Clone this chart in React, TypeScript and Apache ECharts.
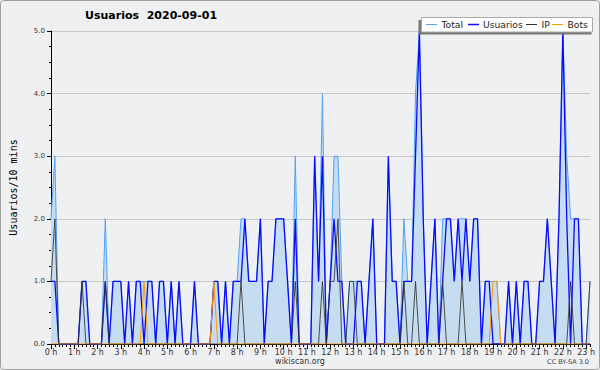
import React, { useEffect, useRef } from "react";
import * as echarts from "echarts";

const hourLabels = [
  "0 h", "1 h", "2 h", "3 h", "4 h", "5 h", "6 h", "7 h", "8 h", "9 h", "10 h", "11 h",
  "12 h", "13 h", "14 h", "15 h", "16 h", "17 h", "18 h", "19 h", "20 h", "21 h", "22 h", "23 h",
];

const total = [
  2, 3, 0, 0, 0, 0, 0, 0, 1, 1,
  0, 0, 0, 0, 2, 0, 1, 1, 1, 0,
  1, 0, 1, 1, 1, 1, 1, 0, 1, 1,
  0, 1, 0, 1, 0, 0, 0, 1, 0, 0,
  0, 0, 1, 1, 0, 1, 0, 1, 1, 2,
  2, 1, 1, 1, 2, 0, 1, 1, 2, 2,
  2, 1, 0, 3, 0, 0, 0, 0, 3, 1,
  4, 0, 1, 3, 3, 1, 0, 1, 1, 1,
  1, 0, 1, 2, 0, 0, 0, 3, 1, 1,
  0, 2, 1, 1, 4, 5, 2, 0, 1, 2,
  0, 2, 2, 2, 1, 2, 2, 2, 1, 2,
  2, 0, 1, 1, 1, 1, 0, 0, 1, 0,
  1, 0, 1, 1, 0, 0, 1, 1, 2, 1,
  0, 2, 5, 3, 2, 2, 2, 0, 0, 1,
];

const usuarios = [
  1, 1, 0, 0, 0, 0, 0, 0, 1, 1,
  0, 0, 0, 0, 1, 0, 1, 1, 1, 0,
  1, 0, 1, 1, 0, 1, 1, 0, 1, 1,
  0, 1, 0, 1, 0, 0, 0, 1, 0, 0,
  0, 0, 1, 1, 0, 1, 0, 1, 1, 1,
  2, 1, 1, 1, 2, 0, 1, 1, 2, 2,
  2, 1, 0, 2, 0, 0, 0, 0, 3, 1,
  3, 0, 1, 2, 1, 1, 0, 0, 0, 1,
  1, 0, 1, 2, 0, 0, 0, 3, 1, 1,
  0, 1, 1, 1, 3, 5, 2, 0, 1, 2,
  0, 1, 2, 2, 1, 2, 1, 2, 1, 2,
  2, 0, 1, 1, 0, 0, 0, 0, 1, 0,
  1, 0, 1, 1, 0, 0, 1, 1, 2, 1,
  0, 2, 5, 2, 0, 2, 2, 0, 0, 0,
];

const ip = [
  1, 2, 0, 0, 0, 0, 0, 0, 1, 0,
  0, 0, 0, 0, 1, 0, 0, 0, 0, 0,
  0, 0, 0, 0, 0, 0, 0, 0, 0, 0,
  0, 0, 0, 0, 0, 0, 0, 0, 0, 0,
  0, 0, 0, 0, 0, 0, 0, 0, 0, 1,
  0, 0, 0, 0, 0, 0, 0, 0, 0, 0,
  0, 0, 0, 1, 0, 0, 0, 0, 0, 0,
  1, 0, 1, 1, 2, 0, 0, 1, 1, 0,
  0, 0, 0, 0, 0, 0, 0, 0, 0, 0,
  0, 1, 0, 0, 1, 0, 0, 0, 0, 0,
  0, 1, 0, 0, 0, 0, 1, 0, 0, 0,
  0, 0, 0, 0, 0, 0, 0, 0, 0, 0,
  0, 0, 0, 0, 0, 0, 0, 0, 0, 0,
  0, 0, 0, 0, 1, 0, 0, 0, 0, 1,
];

const bots = [
  0, 0, 0, 0, 0, 0, 0, 0, 0, 0,
  0, 0, 0, 0, 0, 0, 0, 0, 0, 0,
  0, 0, 0, 0, 1, 0, 0, 0, 0, 0,
  0, 0, 0, 0, 0, 0, 0, 0, 0, 0,
  0, 0, 1, 0, 0, 0, 0, 0, 0, 0,
  0, 0, 0, 0, 0, 0, 0, 0, 0, 0,
  0, 0, 0, 0, 0, 0, 0, 0, 0, 0,
  0, 0, 0, 0, 0, 0, 0, 0, 0, 0,
  0, 0, 0, 0, 0, 0, 0, 0, 0, 0,
  0, 0, 0, 0, 0, 0, 0, 0, 0, 0,
  0, 0, 0, 0, 0, 0, 0, 0, 0, 0,
  0, 0, 0, 0, 1, 1, 0, 0, 0, 0,
  0, 0, 0, 0, 0, 0, 0, 0, 0, 0,
  0, 0, 0, 0, 0, 0, 0, 0, 0, 0,
];

const yTicks = ["0.0", "1.0", "2.0", "3.0", "4.0", "5.0"];

const legendItems = [
  { name: "Total", color: "#4fa3f7" },
  { name: "Usuarios", color: "#0a0aff" },
  { name: "IP", color: "#333333" },
  { name: "Bots", color: "#ff9900" },
];

const FONT = "DejaVu Sans";

export default function App() {
  const ref = useRef<HTMLDivElement>(null);

  useEffect(() => {
    if (!ref.current) return;
    const chart = echarts.init(ref.current, undefined, { renderer: "svg" });

    const categories: string[] = usuarios.map((_, i) => {
      const h = Math.floor(i / 6);
      const m = (i % 6) * 10;
      return `${h}:${m === 0 ? "00" : m}`;
    });

    const legendX = [426, 468, 526, 552];
    const legendTextX = [441.5, 483, 541.5, 567.5];
    const legendGraphics: any[] = [
      { type: "rect", shape: { x: 418.5, y: 20, width: 173, height: 14.5 }, style: { fill: "#777777" }, z: 100 },
      { type: "rect", shape: { x: 421.5, y: 17.5, width: 171, height: 14.5 }, style: { fill: "#ffffff", stroke: "#aaaaaa", lineWidth: 1 }, z: 101 },
    ];
    legendItems.forEach((it, k) => {
      legendGraphics.push({
        type: "line",
        shape: { x1: legendX[k], y1: 24.5, x2: legendX[k] + 11, y2: 24.5 },
        style: { stroke: it.color, lineWidth: it.name === "Usuarios" ? 1.5 : 1 },
        z: 102,
      });
      legendGraphics.push({
        type: "text",
        x: legendTextX[k],
        y: 24.8,
        style: { text: it.name, fill: "#222222", font: `9.2px '${FONT}'`, textVerticalAlign: "middle", textAlign: "left" },
        z: 102,
      });
    });

    const option: any = {
      animation: false,
      backgroundColor: "#eff0f1",
      title: {
        text: "Usuarios  2020-09-01",
        left: 85,
        top: 10,
        padding: 0,
        textStyle: { fontFamily: FONT, fontSize: 11, fontWeight: "bold", color: "#000000" },
      },
      grid: { left: 46, right: 10, top: 31, bottom: 26 },
      xAxis: [
        {
          type: "category",
          data: categories,
          boundaryGap: false,
          axisLine: { show: true, lineStyle: { color: "#000000", width: 1 } },
          axisTick: { show: true, interval: 0, length: 3, lineStyle: { color: "#000000" } },
          axisLabel: {
            interval: 5,
            margin: 4,
            fontFamily: FONT,
            fontSize: 8,
            color: "#333333",
            formatter: (_v: string, idx: number) => hourLabels[Math.floor(idx / 6)] ?? "",
          },
          splitLine: { show: false },
        },
        {
          type: "category",
          data: categories,
          boundaryGap: false,
          position: "bottom",
          axisLine: { show: false },
          axisTick: { show: true, interval: 5, length: 5, lineStyle: { color: "#000000" } },
          axisLabel: { show: false },
          splitLine: { show: false },
        },
      ],
      yAxis: {
        type: "value",
        min: 0,
        max: 5,
        interval: 1,
        name: "Usuarios/10 mins",
        nameLocation: "middle",
        nameRotate: 90,
        nameGap: 33,
        nameTextStyle: { fontFamily: "DejaVu Sans Mono", fontSize: 10, color: "#000000" },
        axisLine: { show: true, lineStyle: { color: "#000000", width: 1 } },
        axisTick: { show: true, length: 4, lineStyle: { color: "#000000" } },
        minorTick: { show: true, splitNumber: 4, length: 2, lineStyle: { color: "#000000" } },
        axisLabel: {
          margin: 6,
          fontFamily: FONT,
          fontSize: 7,
          color: "#333333",
          formatter: (v: number) => yTicks[Math.round(v)] ?? "",
        },
        splitLine: { show: true, lineStyle: { color: "#c8c8c8", width: 1 } },
      },
      series: [
        {
          name: "Total",
          type: "line",
          data: total,
          symbol: "none",
          lineStyle: { color: legendItems[0].color, width: 1 },
          areaStyle: { color: "#c6dcf0", opacity: 1 },
          z: 2,
        },
        {
          name: "Usuarios",
          type: "line",
          data: usuarios,
          symbol: "none",
          lineStyle: { color: legendItems[1].color, width: 1.3 },
          z: 3,
        },
        {
          name: "IP",
          type: "line",
          data: ip,
          symbol: "none",
          lineStyle: { color: legendItems[2].color, width: 1, opacity: 0.85 },
          z: 4,
        },
        {
          name: "Bots",
          type: "line",
          data: bots,
          symbol: "none",
          lineStyle: { color: legendItems[3].color, width: 1 },
          z: 5,
        },
      ],
      graphic: [
        {
          type: "rect",
          shape: { x: 0.5, y: 0.5, width: 599, height: 369, r: 3 },
          style: { fill: "none", stroke: "#a0a0a0", lineWidth: 1 },
          z: 200,
          silent: true,
        },
        ...legendGraphics,
        {
          type: "text",
          x: 300,
          y: 361,
          style: { text: "wikiscan.org", fill: "#333333", font: `8px '${FONT}'`, textAlign: "center", textVerticalAlign: "middle" },
        },
        {
          type: "text",
          x: 589,
          y: 362,
          style: { text: "CC BY-SA 3.0", fill: "#444444", font: `6.5px '${FONT}'`, textAlign: "right", textVerticalAlign: "middle" },
        },
      ],
    };

    chart.setOption(option);
    return () => chart.dispose();
  }, []);

  return (
    <div
      ref={ref}
      style={{ position: "absolute", left: 0, top: 0, width: 600, height: 370 }}
    />
  );
}
